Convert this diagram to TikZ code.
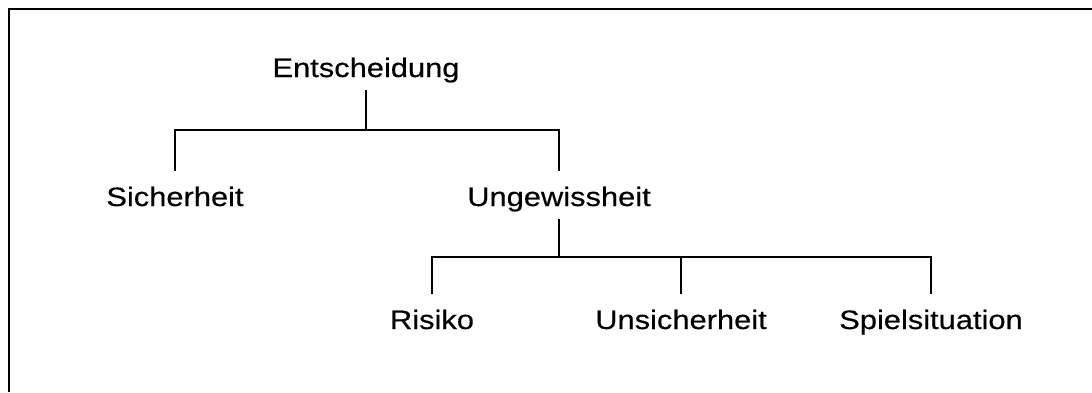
\documentclass[tikz,border=0pt]{standalone}
\usepackage{fontspec}
\setmainfont{Liberation Sans}[FakeStretch=1.16,FakeBold=0.4]
\begin{document}
\begin{tikzpicture}[x=1pt,y=-1pt,
  label/.style={anchor=base,inner sep=0pt,font=\fontsize{26.6}{31}\selectfont},
  branch/.style={line width=1.5pt,line cap=rect},
  frame/.style={line width=2.8pt}]
\useasboundingbox (0,0) rectangle (1092,392);
% outer frame (top and left edges)
\draw[frame] (1092,9) -- (9,9) -- (9,392);

% tree labels
\node[label] (ent) at (366,77) {Entscheidung};
\node[label] (sich) at (175,206) {Sicherheit};
\node[label] (ung) at (559,206) {Ungewissheit};
\node[label] (ris) at (432,329) {Risiko};
\node[label] (uns) at (681,329) {Unsicherheit};
\node[label] (spi) at (931,329) {Spielsituation};

% junction points
\coordinate (j1) at (366,130);
\coordinate (j2) at (559,257);

% first level
\draw[branch] (366,91) -- (j1);
\draw[branch] (sich.base |- 0,170) -- (sich.base |- j1) -- (ung.base |- j1) -- (ung.base |- 0,170);

% second level
\draw[branch] (559,220) -- (j2);
\draw[branch] (ris.base |- 0,293) -- (ris.base |- j2) -- (spi.base |- j2) -- (spi.base |- 0,293);
\draw[branch] (uns.base |- j2) -- (uns.base |- 0,293);
\end{tikzpicture}
\end{document}
